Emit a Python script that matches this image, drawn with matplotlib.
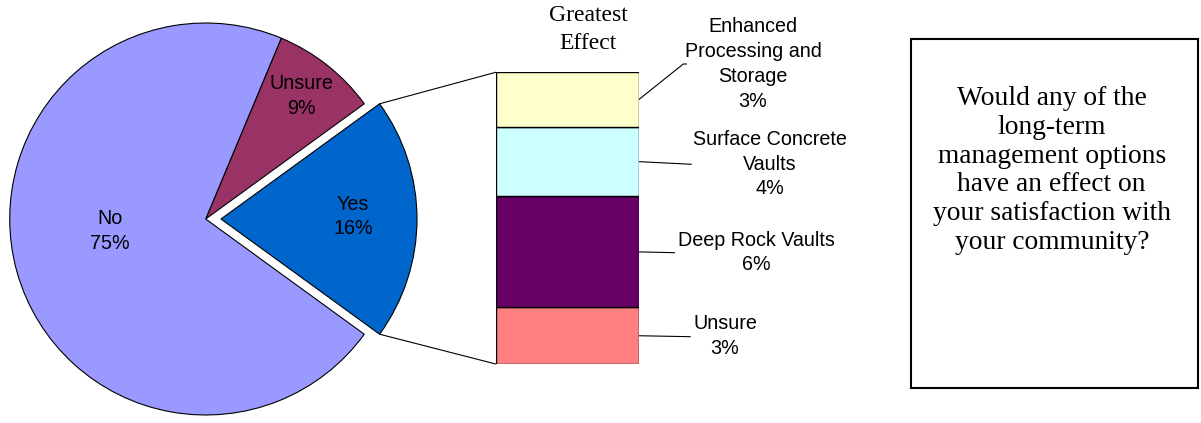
import matplotlib
matplotlib.use("Agg")
import matplotlib.pyplot as plt
from matplotlib.patches import Rectangle, ConnectionPatch
import math

# ---- data ----
pie_labels = ["Yes", "Unsure", "No"]
pie_label_pct = ["16%", "9%", "75%"]
pie_share = [20.0, 8.7, 71.3]          # slice sizes as drawn
pie_colors = ["#0066CC", "#993366", "#9999FF"]

bar_labels = ["Unsure", "Deep Rock Vaults", "Surface Concrete\nVaults",
              "Enhanced\nProcessing and\nStorage"]
bar_values = [3.1, 6.1, 3.8, 3.0]       # bottom to top
bar_pct = ["3%", "6%", "4%", "3%"]
bar_colors = ["#FF8080", "#660066", "#CCFFFF", "#FFFFCC"]

question = ("Would any of the\nlong-term\nmanagement options\n"
            "have an effect on\nyour satisfaction with\nyour community?")
bar_title = "Greatest\nEffect"

W, H = 1201, 423
fig = plt.figure(figsize=(W / 100, H / 100), dpi=100)
fig.patch.set_facecolor("white")
ax = fig.add_axes([0, 0, 1, 1])

def Y(ypx):
    return H - ypx

sans = "Liberation Sans"
serif = "Liberation Serif"

cx, cy, r = 205.7, Y(219), 196
explode_dist = 15.3
ax.pie(pie_share, explode=[explode_dist, 0, 0], startangle=-36, center=(cx, cy),
       radius=r, colors=pie_colors, counterclock=True,
       wedgeprops=dict(edgecolor="black", linewidth=0.8))
ax.set_xlim(0, W)
ax.set_ylim(0, H)
ax.set_aspect("auto")
ax.axis("off")

# pie labels
pie_label_pos = {"Yes": (353, 216.5), "Unsure": (301, 96.3), "No": (110, 231)}
for lab, pct in zip(pie_labels, pie_label_pct):
    x, y = pie_label_pos[lab]
    ax.text(x, Y(y), f"{lab}\n{pct}", ha="center", va="center",
            fontsize=14.2, family=sans, linespacing=1.38, color="black")

# bar axes
bx0, bx1, by0, by1 = 495.7, 638.7, 72.3, 364
bax = fig.add_axes([bx0 / W, (H - by1) / H, (bx1 - bx0) / W, (by1 - by0) / H])
bottom = 0
mids = []
for v, c in zip(bar_values, bar_colors):
    bax.bar(0, v, bottom=bottom, width=1, color=c, edgecolor="black", linewidth=1.0)
    mids.append(bottom + v / 2)
    bottom += v
total = bottom
bax.set_xlim(-0.5, 0.5)
bax.set_ylim(0, total)
bax.axis("off")

# connectors from Yes slice to bar
ex = cx + explode_dist
for ang, yb in [(36, total), (-36, 0)]:
    px = ex + r * math.cos(math.radians(ang))
    py = cy + r * math.sin(math.radians(ang))
    con = ConnectionPatch(xyA=(px, py), coordsA=ax.transData,
                          xyB=(-0.5, yb), coordsB=bax.transData,
                          color="black", linewidth=0.8)
    fig.add_artist(con)

# leader lines and labels
leader_ends = [[(690.7, 336.7)], [(675, 252.7)], [(691.7, 164.3)],
               [(683.3, 64), (687, 64)]]
text_pos = [(725, 336), (756, 252.5), (770, 164), (753, 64)]
for mid, ends, lab, pct, tp in zip(mids, leader_ends, bar_labels, bar_pct, text_pos):
    start = bax.transData.transform((0.5, mid))
    sx, sy = ax.transData.inverted().transform(start)
    ax.plot([sx] + [e[0] for e in ends], [sy] + [Y(e[1]) for e in ends],
            color="black", linewidth=0.8, solid_capstyle="butt")
    ax.text(tp[0], Y(tp[1]), f"{lab}\n{pct}", ha="center", va="center",
            fontsize=14.2, family=sans, linespacing=1.38)

ax.text(588.3, Y(29.5), bar_title, ha="center", va="center",
        fontsize=17, family=serif, linespacing=1.4)

# question box
ax.add_patch(Rectangle((911, Y(388.3)), 1197.7 - 911, 388.3 - 39,
                       fill=False, edgecolor="black", linewidth=1.5))
ax.text(1051.7, Y(170.5), question, ha="center", va="center",
        fontsize=19.8, family=serif, linespacing=1.21)

fig.savefig("out.png", dpi=100)
